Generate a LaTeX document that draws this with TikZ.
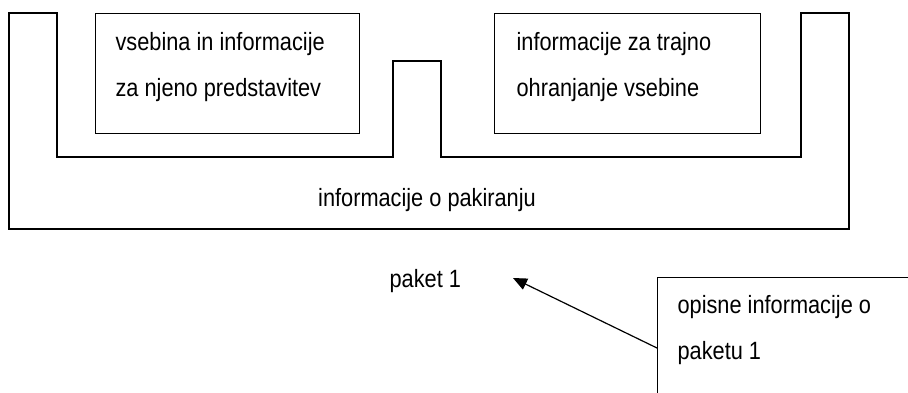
\documentclass[tikz,border=0pt]{standalone}
\usepackage{fontspec}
\setmainfont{Liberation Sans}[FakeStretch=0.87]
\usetikzlibrary{arrows.meta}
\begin{document}
\begin{tikzpicture}[x=1pt,y=-1pt,line width=1.2pt,
  boxstyle/.style={draw,rectangle,inner sep=0pt,anchor=north west},
  lbl/.style={inner sep=0pt,anchor=base west,font=\fontsize{25}{29}\selectfont},
  arr/.style={-{Triangle[length=14pt,width=12pt]}}]
\useasboundingbox (0,0) rectangle (908,392);
\clip (0,0) rectangle (908,392);
% outer packaging shape
\draw (9,13) -- (57,13) -- (57,157) -- (393,157) -- (393,61) -- (441,61) -- (441,157)
  -- (801,157) -- (801,13) -- (849,13) -- (849,229) -- (9,229) -- cycle;
% inner boxes
\node[boxstyle,minimum width=264pt,minimum height=120pt] (b1) at (95,13) {};
\node[boxstyle,minimum width=266pt,minimum height=120pt] (b2) at (494,13) {};
\node[boxstyle,minimum width=300pt,minimum height=160pt] (b3) at (657,277) {};
% texts
\node[lbl] (t1a) at (115,50) {vsebina in informacije};
\node[lbl] (t1b) at (115,96) {za njeno predstavitev};
\node[lbl] (t2a) at (516,50) {informacije za trajno};
\node[lbl] (t2b) at (516,96) {ohranjanje vsebine};
\node[lbl,anchor=base] (tp) at (427,206) {informacije o pakiranju};
\node[lbl] (pk) at (389,287) {paket 1};
\node[lbl] (t3a) at (677,313) {opisne informacije o};
\node[lbl] (t3b) at (677,359) {paketu 1};
% arrow
\coordinate (tip) at (513,278);
\draw[arr] ([yshift=-71pt]b3.north west) -- (tip);
\end{tikzpicture}
\end{document}
